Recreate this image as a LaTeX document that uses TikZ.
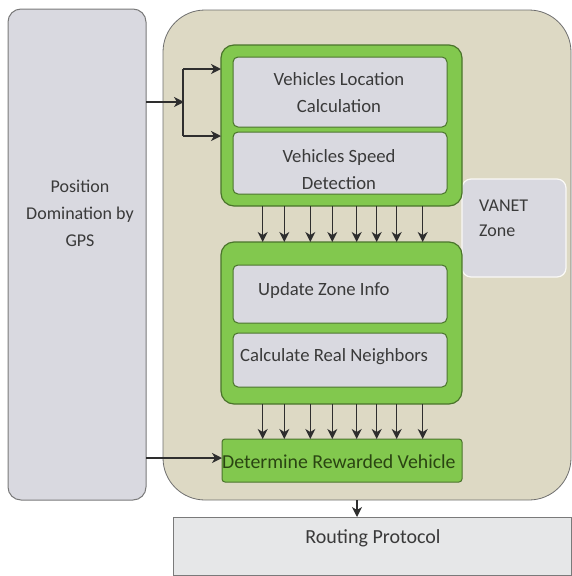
\documentclass[tikz,border=0pt]{standalone}
\usepackage{fontspec}
\setmainfont{Carlito}
\usetikzlibrary{arrows.meta,calc}
\definecolor{zonefill}{HTML}{DDD9C4}
\definecolor{zoneline}{HTML}{6E6E6E}
\definecolor{boxfill}{HTML}{D9D9E0}
\definecolor{boxline}{HTML}{7A7A7A}
\definecolor{grn}{HTML}{82C84E}
\definecolor{grnline}{HTML}{4A742B}
\definecolor{txt}{HTML}{3A3A3A}
\definecolor{dgreen}{HTML}{2A4512}
\definecolor{rpfill}{HTML}{E6E7E8}
\definecolor{arrc}{HTML}{2E2E2E}
\begin{document}
\begin{tikzpicture}[x=1pt,y=-1pt,
  base/.style={anchor=north west,inner sep=0pt,outer sep=0pt},
  zonebox/.style={base,fill=zonefill,draw=zoneline,line width=0.8pt,rounded corners=42pt},
  gpsbox/.style={base,fill=boxfill,draw=boxline,line width=1pt,rounded corners=13pt},
  grpbox/.style={base,fill=grn,draw=grnline,line width=1.2pt,rounded corners=13pt},
  inbox/.style={base,fill=boxfill,draw=grnline,line width=1pt,rounded corners=5pt},
  detbox/.style={base,fill=grn,draw=grnline,line width=1pt,rounded corners=3pt},
  vanetbox/.style={base,fill=boxfill,draw=white!85!zonefill,line width=1.2pt,rounded corners=9pt},
  rpbox/.style={base,fill=rpfill,draw=boxline,line width=1pt},
  lbl/.style={inner sep=0pt,text=txt,font=\fontsize{18.7}{27}\selectfont},
  arr/.style={draw=arrc,line width=1.5pt,-{Stealth[length=10pt,width=10pt,inset=3pt]}},
  ln/.style={draw=arrc,line width=1.5pt}]
\useasboundingbox (0,0) rectangle (572,576);
\node[zonebox,minimum width=408pt,minimum height=490pt] (zone) at (163,10) {};
\node[gpsbox,minimum width=138pt,minimum height=491pt] (gps) at (8,9) {};
\node[rpbox,minimum width=398pt,minimum height=58pt] (rp) at (173,517) {};
\node[vanetbox,minimum width=104pt,minimum height=98pt] (vanet) at (462,179) {};
\node[grpbox,minimum width=241pt,minimum height=161pt] (g1) at (221,45) {};
\node[inbox,minimum width=214pt,minimum height=70pt] (b1) at (233,57) {};
\node[inbox,minimum width=214pt,minimum height=62pt] (b2) at (233,132) {};
\node[grpbox,minimum width=241pt,minimum height=162pt] (g2) at (221,242) {};
\node[inbox,minimum width=214pt,minimum height=58pt] (b3) at (233,265) {};
\node[inbox,minimum width=214pt,minimum height=54pt] (b4) at (233,333) {};
\node[detbox,minimum width=240pt,minimum height=43pt] (det) at (222,439) {};
% labels
\node[lbl,align=center,font=\fontsize{18}{27}\selectfont] (tgps) at (80,213) {Position\\Domination by\\GPS};
\node[lbl,align=center] (t1) at (339,93) {Vehicles Location\\Calculation};
\node[lbl,align=center] (t2) at (339,170) {Vehicles Speed\\Detection};
\node[lbl,anchor=west] (t3) at (258,291) {Update Zone Info};
\node[lbl,anchor=west] (t4) at (240,357) {Calculate Real Neighbors};
\node[lbl,anchor=west,align=left,font=\fontsize{18}{25}\selectfont] (tv) at (479,218) {VANET\\Zone};
\node[lbl,anchor=west,text=dgreen,font=\fontsize{19.8}{22}\selectfont] (td) at (222,462) {Determine Rewarded Vehicle};
\node[lbl,font=\fontsize{20}{22}\selectfont] (trp) at (373,538) {Routing Protocol};
% connectors
\coordinate (split) at (184,102);
\coordinate (bt) at (183,69);
\coordinate (bb) at (183,136);
\coordinate (dline) at (0,458);
\coordinate (rpx) at (357,0);
\draw[arr] (split -| gps.east) -- (split);
\draw[ln] (bt) -- (bb);
\draw[arr] (bt) -- (bt -| g1.west);
\draw[arr] (bb) -- (bb -| g1.west);
\draw[arr] (dline -| gps.east) -- (dline -| det.west);
\foreach \dx in {41.7,63.3,89.3,111.3,135.7,155.7,175.7,201.7}{
  \draw[arr] ([xshift=\dx pt]g1.south west) -- ([xshift=\dx pt]g2.north west);
  \draw[arr] ([xshift=\dx pt]g2.south west) -- ([xshift=\dx pt]g2.south west |- det.north);
}
\draw[arr] (zone.south -| rpx) -- (rp.north -| rpx);
\end{tikzpicture}
\end{document}
